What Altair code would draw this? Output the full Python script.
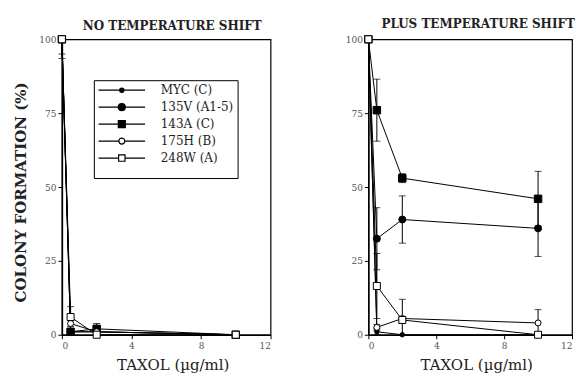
import altair as alt
import pandas as pd

# ---------------- data ----------------
taxol = [0, 0.5, 2, 10]
strains = ["MYC (C)", "135V (A1-5)", "143A (C)", "175H (B)", "248W (A)"]

# NO TEMPERATURE SHIFT
no_myc = [100, 1, 1, 0]
no_135v = [100, 1, 1, 0]
no_143a = [100, 1, 2, 0]
no_175h = [100, 3.8, 1, 0]
no_248w = [100, 6, 0, 0]
no_myc_err = [5, 8.5, 1, 0]
no_135v_err = [6.5, 1, 0.5, 0]
no_143a_err = [0, 1, 1.8, 0]
no_175h_err = [0, 1, 0.5, 0]
no_248w_err = [0, 1, 0, 0]

# PLUS TEMPERATURE SHIFT
plus_myc = [100, 1, 0, 0]
plus_135v = [100, 32.5, 39, 36]
plus_143a = [100, 76, 53, 46]
plus_175h = [100, 2.5, 5.5, 4]
plus_248w = [100, 16.5, 5, 0]
plus_myc_err = [0, 1, 0, 0]
plus_135v_err = [0, 10.5, 8, 9.5]
plus_143a_err = [0, 10.5, 1.5, 9.3]
plus_175h_err = [0, 1, 6.5, 4.5]
plus_248w_err = [0, 11, 1, 0]

x_ticks = list(range(0, 13))
y_ticks = [0, 12.5, 25, 37.5, 50, 62.5, 75, 87.5, 100]


def make_df(vals, errs):
    rows = []
    for s, v, e in zip(strains, vals, errs):
        for x, yv, ev in zip(taxol, v, e):
            rows.append({"series": s, "taxol": x, "value": yv, "err": ev})
    return pd.DataFrame(rows)


df_no = make_df([no_myc, no_135v, no_143a, no_175h, no_248w],
                [no_myc_err, no_135v_err, no_143a_err, no_175h_err, no_248w_err])
df_plus = make_df([plus_myc, plus_135v, plus_143a, plus_175h, plus_248w],
                  [plus_myc_err, plus_135v_err, plus_143a_err, plus_175h_err, plus_248w_err])

# ---------------- styles ----------------
styles = {
    "MYC (C)": ("circle", 20, "black"),
    "135V (A1-5)": ("circle", 49, "black"),
    "143A (C)": ("square", 56, "black"),
    "175H (B)": ("circle", 36, "white"),
    "248W (A)": ("square", 49, "white"),
}


def circ_path(r, half=4.66):
    return (f"M-{half},0L-{r},0M{r},0L{half},0M-{r},0A{r},{r},0,1,0,{r},0"
            f"A{r},{r},0,1,0,-{r},0Z")


def sq_path(r, half=4.66):
    return (f"M-{half},0L-{r},0M{r},0L{half},0M-{r},-{r}L{r},-{r}L{r},{r}L-{r},{r}Z")


legend_paths = [circ_path(0.44), circ_path(0.7), sq_path(0.7), circ_path(0.6), sq_path(0.64)]
legend_fills = ["black", "black", "black", "white", "white"]
legend_strokes = ["black"] * 5

SERIF = "DejaVu Serif"


def panel(df, title, width, title_offset, title_dx, x_title_x, with_legend, with_ytitle):
    base = alt.Chart(df)
    xenc = alt.X("taxol:Q", scale=alt.Scale(domain=[0, 12], nice=False),
                 axis=alt.Axis(values=x_ticks, title="TAXOL (µg/ml)", titleX=x_title_x,
                               labelExpr="datum.value % 2 === 0 ? datum.label : ''"))
    if with_ytitle:
        yaxis = alt.Axis(values=y_ticks, title="COLONY FORMATION (%)", titleY=153,
                         labelExpr="datum.value % 25 === 0 ? datum.label : ''")
    else:
        yaxis = alt.Axis(values=y_ticks, title="",
                         labelExpr="datum.value % 25 === 0 ? datum.label : ''")
    yenc = alt.Y("value:Q", scale=alt.Scale(domain=[0, 100], nice=False), axis=yaxis)

    lines = base.mark_line(color="black", strokeWidth=1).encode(
        x=xenc, y=yenc, detail="series:N")

    bars_df = base.transform_filter("datum.err > 0").transform_calculate(
        lo="max(datum.value - datum.err, 0)", hi="min(datum.value + datum.err, 100)")
    rules = bars_df.mark_rule(color="black", strokeWidth=1).encode(
        x="taxol:Q", y="lo:Q", y2="hi:Q")
    cap_lo = bars_df.mark_tick(color="black", thickness=1, size=7, orient="horizontal"
                               ).encode(x="taxol:Q", y="lo:Q")
    cap_hi = bars_df.transform_filter("datum.value + datum.err <= 100").mark_tick(
        color="black", thickness=1, size=7, orient="horizontal").encode(x="taxol:Q", y="hi:Q")

    layers = [lines, rules, cap_lo, cap_hi]
    for s in strains:
        shp, sz, fill = styles[s]
        layers.append(
            base.transform_filter(alt.datum.series == s).mark_point(
                shape=shp, size=sz, fill=fill, stroke="black", strokeWidth=1,
                opacity=1, fillOpacity=1).encode(x="taxol:Q", y="value:Q"))

    if with_legend:
        leg = alt.Legend(title=" ", titleOrient="bottom", titleFontSize=8, titlePadding=2,
                         orient="none", legendX=32, legendY=41)
        layers.append(
            base.transform_filter("false").mark_point(
                strokeWidth=1.2, opacity=1, filled=True).encode(
                x="taxol:Q", y="value:Q",
                shape=alt.Shape("series:N", scale=alt.Scale(domain=strains, range=legend_paths),
                                legend=leg),
                fill=alt.Fill("series:N", scale=alt.Scale(domain=strains, range=legend_fills),
                              legend=leg),
                stroke=alt.Stroke("series:N", scale=alt.Scale(domain=strains, range=legend_strokes),
                                  legend=leg)))

    return alt.layer(*layers).properties(
        width=width, height=296,
        title=alt.TitleParams(title, font=SERIF, fontSize=12, fontWeight="bold",
                              offset=title_offset, frame="group", dx=title_dx,
                              color="#222"))


left = panel(df_no, "NO TEMPERATURE SHIFT", 209, 1, 6, 111, True, True)
right = panel(df_plus, "PLUS TEMPERATURE SHIFT", 204, 3, 8, 108, False, False)

chart = alt.hconcat(left, right, spacing=72).properties(
    padding={"left": 5, "top": 8, "right": 0, "bottom": 0}
).configure_view(
    stroke="black", strokeWidth=1.2
).configure_axis(
    domainColor="black", domainWidth=1.5, tickColor="black", tickWidth=1,
    tickSize={"condition": {"test": "datum.value % 25 !== 0 && datum.value % 2 !== 0", "value": 2}, "value": 4},
    grid=False, labelFont=SERIF, labelFontSize=9, labelColor="#555",
    labelPadding=2, titleFont=SERIF, titleColor="#222"
).configure_axisX(
    labelPadding=3, titleFontSize=15, titleFontWeight="normal", titlePadding=7, labelAngle=0
).configure_axisY(
    titleFontSize=15, titleFontWeight="bold", titlePadding=10
).configure_legend(
    strokeColor="black", strokeWidth=1, padding=4, fillColor="white",
    symbolSize=100, symbolOffset=18, symbolStrokeColor="black", symbolStrokeWidth=1.2,
    symbolOpacity=1, labelFont=SERIF, labelFontSize=12, labelColor="#222", labelOffset=33,
    rowPadding=5
)

chart.save("out.html", embed_options={"renderer": "svg", "actions": False})
